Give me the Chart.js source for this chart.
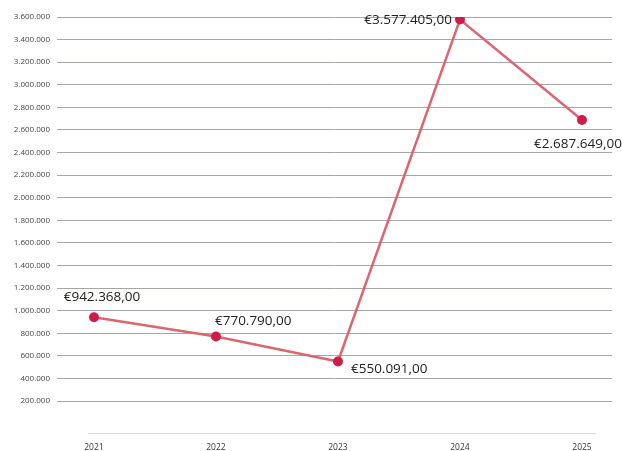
<!DOCTYPE html>
<html>
<head>
<meta charset="utf-8">
<script src="https://cdn.jsdelivr.net/npm/chart.js@4"></script>
<style>
  html, body { margin: 0; padding: 0; background: #fff; }
  #wrap { width: 622px; height: 451px; }
</style>
</head>
<body>
<div id="wrap"><canvas id="faturamentoAnual"></canvas></div>
<script>
var anos = [2021, 2022, 2023, 2024, 2025];
var faturamento = [942368, 770790, 550091, 3577405, 2687649];
var yTicks = [200000, 400000, 600000, 800000, 1000000, 1200000, 1400000, 1600000, 1800000,
              2000000, 2200000, 2400000, 2600000, 2800000, 3000000, 3200000, 3400000, 3600000];

function milhares(n) {
    return String(Math.round(n)).replace(/\B(?=(\d{3})+(?!\d))/g, '.');
}
function euro(n) {
    return '€' + milhares(Math.floor(n)) + ',' + String(Math.round((n % 1) * 100)).padStart(2, '0');
}

// rótulos de valor ao lado de cada ponto
var rotulos = {
    id: 'rotulos',
    afterDatasetsDraw: function(chart, args, opts) {
        var ctx = chart.ctx;
        var pts = chart.getDatasetMeta(0).data;
        ctx.save();
        ctx.font = opts.font;
        ctx.fillStyle = opts.color;
        ctx.textBaseline = 'middle';
        pts.forEach(function(p, i) {
            var pos = opts.placement[i];
            ctx.textAlign = pos.align;
            ctx.fillText(euro(faturamento[i]), p.x + pos.dx, p.y + pos.dy);
        });
        ctx.restore();
    }
};

// linha curta do eixo x
var eixoX = {
    id: 'eixoX',
    beforeDatasetsDraw: function(chart, args, opts) {
        var x = chart.scales.x;
        var y = chart.chartArea.bottom;
        var ctx = chart.ctx;
        ctx.save();
        ctx.strokeStyle = opts.color;
        ctx.lineWidth = 1;
        ctx.beginPath();
        ctx.moveTo(x.getPixelForValue(opts.from), y + 0.5);
        ctx.lineTo(x.getPixelForValue(opts.to), y + 0.5);
        ctx.stroke();
        ctx.restore();
    }
};

var ctx = document.getElementById('faturamentoAnual').getContext('2d');
new Chart(ctx, {
    type: 'line',
    data: {
        datasets: [{
            label: 'Faturamento',
            data: anos.map(function(a, i) { return { x: a, y: faturamento[i] }; }),
            borderColor: '#dc6670',
            borderWidth: 2.5,
            pointRadius: 5,
            pointHoverRadius: 5,
            pointBackgroundColor: '#cf1c4b',
            pointBorderColor: '#cf1c4b',
            pointBorderWidth: 0,
            tension: 0
        }]
    },
    plugins: [eixoX, rotulos],
    options: {
        responsive: true,
        maintainAspectRatio: false,
        animation: false,
        layout: { padding: { top: 17, right: 10, left: 0, bottom: 0 } },
        plugins: {
            legend: { display: false },
            tooltip: { enabled: false },
            eixoX: { color: '#d9d9d9', from: 2020.95, to: 2025.115 },
            rotulos: {
                font: '13.5px "Open Sans", sans-serif',
                color: '#222',
                placement: [
                    { dx: 8, dy: -20, align: 'center' },
                    { dx: -1, dy: -15, align: 'left' },
                    { dx: 13, dy: 8, align: 'left' },
                    { dx: -8, dy: 1, align: 'right' },
                    { dx: -4, dy: 24, align: 'center' }
                ]
            }
        },
        scales: {
            x: {
                type: 'linear',
                min: 2020.697,
                max: 2025.246,
                afterBuildTicks: function(s) { s.ticks = anos.map(function(a) { return { value: a }; }); },
                afterFit: function(s) { s.height = 18; },
                grid: { display: false, drawTicks: false },
                border: { display: false },
                ticks: {
                    padding: 9,
                    color: '#333',
                    font: { family: '"Open Sans", sans-serif', size: 8.5 },
                    maxRotation: 0,
                    callback: function(v) { return String(v); }
                }
            },
            y: {
                min: -83000,
                max: 3600000,
                afterBuildTicks: function(s) { s.ticks = yTicks.map(function(v) { return { value: v }; }); },
                afterFit: function(s) { s.width = 57; },
                grid: { color: '#a3a7ab', lineWidth: 1, drawTicks: false },
                border: { display: false },
                ticks: {
                    padding: 7,
                    color: '#444',
                    font: { family: '"Open Sans", sans-serif', size: 8 },
                    callback: function(v) { return milhares(v); }
                }
            }
        }
    }
});
</script>
</body>
</html>
